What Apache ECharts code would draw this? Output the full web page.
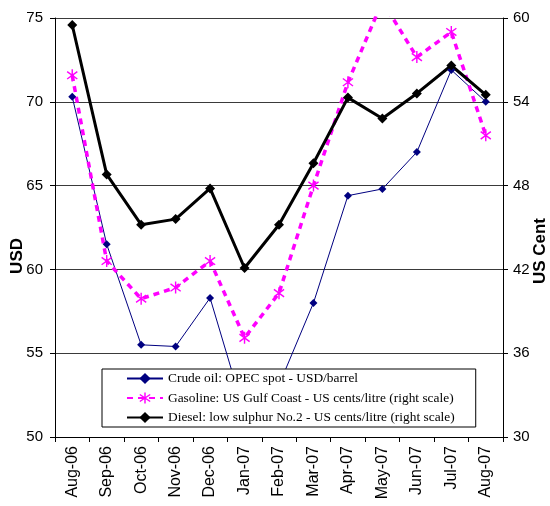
<!DOCTYPE html>
<html>
<head>
<meta charset="utf-8">
<script src="https://cdn.jsdelivr.net/npm/echarts@6/dist/echarts.min.js"></script>
<style>html,body{margin:0;padding:0;background:#fff;}#c{width:550px;height:506px;}</style>
</head>
<body>
<div id="c"></div>
<script>
var categories = ['Aug-06','Sep-06','Oct-06','Nov-06','Dec-06','Jan-07','Feb-07','Mar-07','Apr-07','May-07','Jun-07','Jul-07','Aug-07'];
var crudeOil = [70.3, 61.5, 55.5, 55.4, 58.3, 51.4, 53.1, 58.0, 64.4, 64.8, 67.0, 71.9, 70.0];
var gasoline = [55.9, 42.6, 39.9, 40.7, 42.6, 37.1, 40.3, 48.0, 55.4, 61.2, 57.2, 59.0, 51.6];
var diesel = [59.5, 48.8, 45.2, 45.6, 47.8, 42.1, 45.2, 49.6, 54.3, 52.8, 54.6, 56.6, 54.5];
var leftTicks = {min: 50, max: 75, interval: 5};
var rightTicks = {min: 30, max: 60, interval: 6};
var names = ['Crude oil: OPEC spot - USD/barrel', 'Gasoline: US Gulf Coast - US cents/litre (right scale)', 'Diesel: low sulphur No.2 - US cents/litre (right scale)'];

var asterisk = 'path://M4.4,0 L5.6,0 L5.6,10 L4.4,10 Z M1.05,1.41 L9.65,7.61 L8.95,8.59 L0.35,2.39 Z M0.35,7.61 L8.95,1.41 L9.65,2.39 L1.05,8.59 Z';

var chart = echarts.init(document.getElementById('c'), null, {renderer: 'canvas'});
chart.setOption({
  animation: false,
  backgroundColor: '#fff',
  textStyle: {fontFamily: 'Liberation Sans, Arial, sans-serif', color: '#000'},
  grid: {left: 55, right: 47, top: 18, bottom: 69, containLabel: false},
  legend: {
    orient: 'vertical',
    left: 102, top: 369,
    padding: [3, 21, 3, 24],
    itemWidth: 36, itemHeight: 14, itemGap: 6.5,
    backgroundColor: '#fff', borderColor: '#000', borderWidth: 1,
    textStyle: {fontFamily: 'Liberation Serif, Times New Roman, serif', fontSize: 13.4, color: '#000'},
    data: names
  },
  xAxis: {
    type: 'category', data: categories, boundaryGap: true,
    axisLine: {lineStyle: {color: '#000', width: 1}},
    axisTick: {show: true, length: 5, lineStyle: {color: '#000'}},
    axisLabel: {rotate: 90, fontSize: 16, color: '#000', margin: 9, interval: 0}
  },
  yAxis: [{
    type: 'value', min: leftTicks.min, max: leftTicks.max, interval: leftTicks.interval,
    axisLine: {show: true, lineStyle: {color: '#000'}},
    axisTick: {show: true, length: 5, lineStyle: {color: '#000'}},
    axisLabel: {fontSize: 15, color: '#000', margin: 12},
    splitLine: {show: true, lineStyle: {color: '#3a3a3a', width: 1}}
  }, {
    type: 'value', min: rightTicks.min, max: rightTicks.max, interval: rightTicks.interval, position: 'right',
    axisLine: {show: true, lineStyle: {color: '#000'}},
    axisTick: {show: true, length: 5, lineStyle: {color: '#000'}},
    axisLabel: {fontSize: 15, color: '#000', margin: 10},
    splitLine: {show: false}
  }],
  graphic: [
    {type: 'text', left: 9, top: 238, rotation: Math.PI / 2,
     style: {text: 'USD', font: 'bold 17px Liberation Sans, Arial, sans-serif', fill: '#000'}},
    {type: 'text', left: 532, top: 218, rotation: Math.PI / 2,
     style: {text: 'US Cent', font: 'bold 17px Liberation Sans, Arial, sans-serif', fill: '#000'}}
  ],
  series: [{
    name: names[0], type: 'line', yAxisIndex: 0, data: crudeOil,
    symbol: 'diamond', symbolSize: 8,
    lineStyle: {color: '#000080', width: 1},
    itemStyle: {color: '#000080'}
  }, {
    name: names[1], type: 'line', yAxisIndex: 1, data: gasoline,
    symbol: asterisk, symbolSize: [11, 12], clip: true,
    lineStyle: {color: '#ff00ff', width: 3.5, type: [6, 5]},
    itemStyle: {color: '#ff00ff'}
  }, {
    name: names[2], type: 'line', yAxisIndex: 1, data: diesel,
    symbol: 'diamond', symbolSize: 10,
    lineStyle: {color: '#000', width: 3},
    itemStyle: {color: '#000'}
  }]
});
</script>
</body>
</html>
